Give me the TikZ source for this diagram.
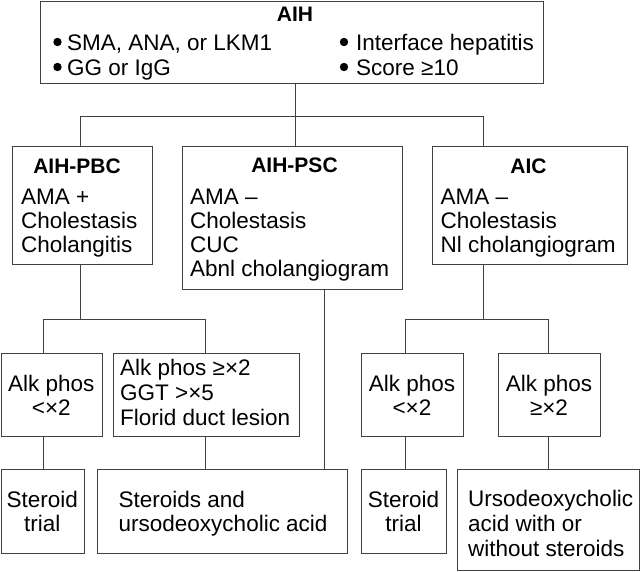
\documentclass[tikz,border=0pt]{standalone}
\usepackage{fontspec}
\setmainfont{Liberation Sans}
\begin{document}
\begin{tikzpicture}[x=1pt,y=-1pt,
  box/.style={draw=black!75, line width=0.9pt, rectangle, inner sep=0pt, anchor=north west},
  conn/.style={draw=black!75, line width=0.9pt},
  txt/.style={inner sep=0pt, font=\fontsize{22.5}{24}\selectfont, text=black},
  hd/.style={inner sep=0pt, font=\fontsize{21}{24}\selectfont\bfseries, text=black, anchor=base},
  tl/.style={txt, anchor=base west},
  tc/.style={txt, anchor=base},
  bul/.style={circle, fill=black, draw=none, inner sep=0pt, minimum size=8.4pt}]
\useasboundingbox (0,0) rectangle (640,571);

% boxes
\node[box, minimum width=503pt, minimum height=82.4pt] (aih) at (40,0.6) {};
\node[box, minimum width=140pt, minimum height=118pt] (pbc) at (12,146) {};
\node[box, minimum width=220pt, minimum height=143pt] (psc) at (182,146) {};
\node[box, minimum width=195pt, minimum height=118pt] (aic) at (432,146) {};
\node[box, minimum width=101.4pt, minimum height=83pt] (a1) at (0.6,353) {};
\node[box, minimum width=186pt, minimum height=83pt] (a2) at (113,353) {};
\node[box, minimum width=102pt, minimum height=83pt] (a3) at (361,353) {};
\node[box, minimum width=102pt, minimum height=83pt] (a4) at (498,353) {};
\node[box, minimum width=83.4pt, minimum height=84pt] (b1) at (0.6,469) {};
\node[box, minimum width=250pt, minimum height=84pt] (b2) at (97,469) {};
\node[box, minimum width=85pt, minimum height=84pt] (b3) at (361,469) {};
\node[box, minimum width=182pt, minimum height=101pt] (b4) at (457,469) {};

% junctions
\coordinate (j0) at (295,116);
\coordinate (k1) at (80,116);
\coordinate (k2) at (483,116);
\coordinate (m0) at (80,319);
\coordinate (m1) at (43,319);
\coordinate (m2) at (205,319);
\coordinate (n0) at (483,319);
\coordinate (n1) at (405,319);
\coordinate (n2) at (548,319);
\coordinate (p0) at (324,300);

% connectors
\draw[conn] (aih.south -| j0) -- (j0);
\draw[conn] (pbc.north -| k1) |- (k2) -- (aic.north -| k2);
\draw[conn] (j0) -- (psc.north -| j0);
\draw[conn] (pbc.south -| m0) -- (m0);
\draw[conn] (a1.north -| m1) |- (m2) -- (a2.north -| m2);
\draw[conn] (aic.south -| n0) -- (n0);
\draw[conn] (a3.north -| n1) |- (n2) -- (a4.north -| n2);
\draw[conn] (psc.south -| p0) -- (b2.north -| p0);
\draw[conn] (a1.south -| m1) -- (b1.north -| m1);
\draw[conn] (a2.south -| m2) -- (b2.north -| m2);
\draw[conn] (a3.south -| n1) -- (b3.north -| n1);
\draw[conn] (a4.south -| n2) -- (b4.north -| n2);

% top box text
\node[hd] (t0) at (295,21) {AIH};
\node[bul] (u1) at (57.5,42) {};
\node[tl] (t1) at (67,50.5) {SMA, ANA, or LKM1};
\node[bul] (u2) at (57.5,67) {};
\node[tl] (t2) at (67,75.5) {GG or IgG};
\node[bul] (u3) at (344,42) {};
\node[tl] (t3) at (356,50.5) {Interface hepatitis};
\node[bul] (u4) at (344,67) {};
\node[tl] (t4) at (356,75.5) {Score ≥10};

% AIH-PBC
\node[hd] (h1) at (77,173) {AIH-PBC};
\node[tl] (p1) at (21,204) {AMA +};
\node[tl] (p2) at (21,228.3) {Cholestasis};
\node[tl] (p3) at (21,252.6) {Cholangitis};

% AIH-PSC
\node[hd] (h2) at (294.5,172) {AIH-PSC};
\node[tl] (s1) at (190,204) {AMA –};
\node[tl] (s2) at (190,228.3) {Cholestasis};
\node[tl] (s3) at (190,252.6) {CUC};
\node[tl] (s4) at (190,276.9) {Abnl cholangiogram};

% AIC
\node[hd] (h3) at (528.5,173) {AIC};
\node[tl] (c1) at (440.5,204) {AMA –};
\node[tl] (c2) at (440.5,228.3) {Cholestasis};
\node[tl] (c3) at (440.5,252.6) {Nl cholangiogram};

% level 3
\node[tc] (q1) at (51.3,391) {Alk phos};
\node[tc] (q2) at (51.3,415) {<×2};
\node[tl] (r1) at (120,375) {Alk phos ≥×2};
\node[tl] (r2) at (120,400) {GGT >×5};
\node[tl] (r3) at (120,425) {Florid duct lesion};
\node[tc] (v1) at (412,391) {Alk phos};
\node[tc] (v2) at (412,415) {<×2};
\node[tc] (w1) at (549,391) {Alk phos};
\node[tc] (w2) at (549,415) {≥×2};

% bottom row
\node[tc] (e1) at (42.3,507) {Steroid};
\node[tc] (e2) at (42.3,531) {trial};
\node[tl] (f1) at (118.5,507) {Steroids and};
\node[tl] (f2) at (118.5,531) {ursodeoxycholic acid};
\node[tc] (g1) at (403.5,507) {Steroid};
\node[tc] (g2) at (403.5,531) {trial};
\node[tl] (i1) at (468,506) {Ursodeoxycholic};
\node[tl] (i2) at (468,531) {acid with or};
\node[tl] (i3) at (468,556) {without steroids};
\end{tikzpicture}
\end{document}
